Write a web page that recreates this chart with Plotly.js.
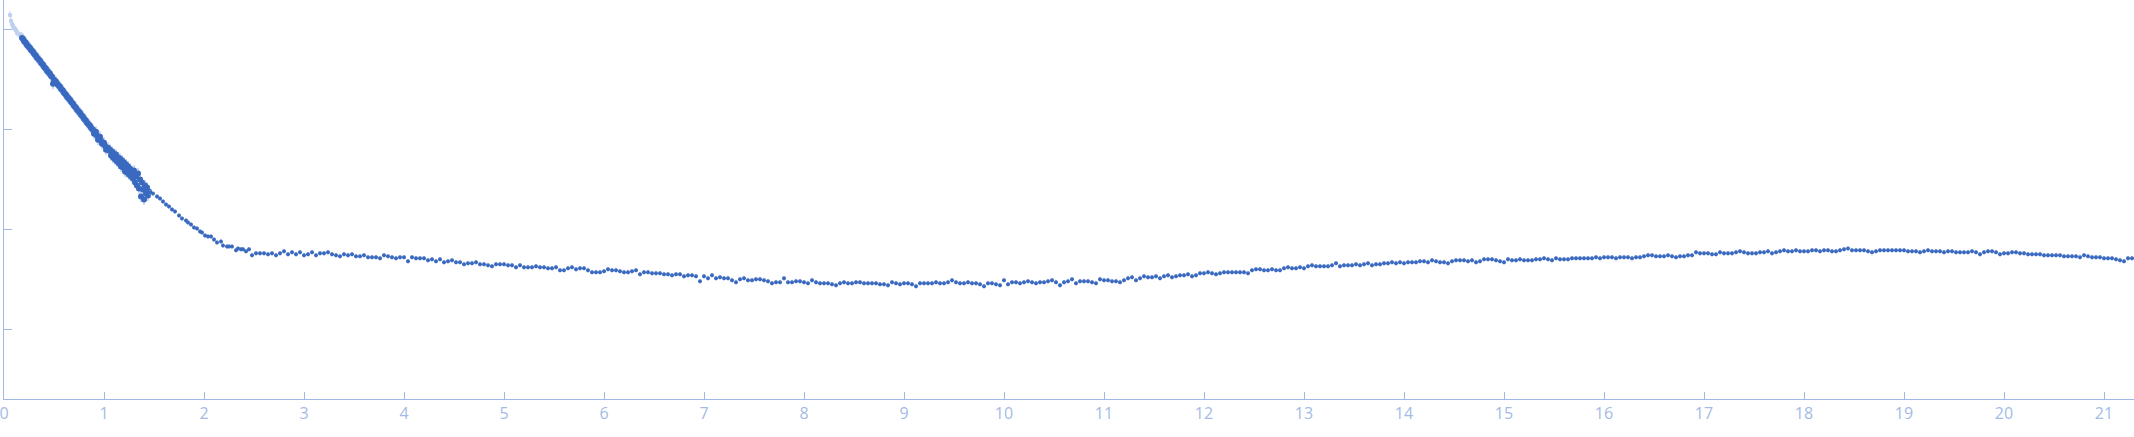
<html>
<head>
<script src="https://cdn.plot.ly/plotly-3.0.1.min.js"></script>
<style>
  body { margin: 0; background: #fff; }
</style>
</head>
<body>
<div id="chart"></div>
<script>
    // points left out of the fit (lowest s)
    let excludedS = [0.06,0.07,0.08,0.09,0.10,0.12,0.13,0.15,0.17];
    let excludedI = [4.15,4.09,4.06,4.04,4.02,4.00,3.97,3.96,3.94];

    // dense low-angle part
    let lowS = [
      0.18,0.19,0.20,0.21,0.22,0.23,0.24,0.25,0.26,0.27,
      0.28,0.29,0.30,0.31,0.32,0.33,0.34,0.35,0.36,0.37,
      0.38,0.39,0.40,0.41,0.42,0.43,0.44,0.45,0.46,0.47,
      0.48,0.49,0.50,0.51,0.52,0.53,0.54,0.55,0.56,0.57,
      0.58,0.59,0.60,0.61,0.62,0.63,0.64,0.65,0.66,0.67,
      0.68,0.69,0.70,0.71,0.72,0.73,0.74,0.75,0.76,0.77,
      0.78,0.79,0.80,0.81,0.82,0.83,0.84,0.85,0.86,0.87,
      0.88,0.89,0.90,0.91,0.92,0.93,0.94,0.95,0.96,0.97,
      0.98,0.99,1.00,1.01,1.02,1.03,1.04,1.05,1.06,1.07,
      1.08,1.09,1.10,1.11,1.12,1.13,1.14,1.15,1.16,1.17,
      1.18,1.19,1.20,1.21,1.22,1.23,1.24,1.25,1.26,1.27,
      1.28,1.29,1.30,1.31,1.32,1.33,1.34,1.35,1.36,1.37,
      1.38,1.39,1.40,1.41,1.42,1.43,1.44,1.45];
    let lowI = [
      3.92,3.91,3.89,3.88,3.87,3.85,3.84,3.83,3.82,3.80,
      3.79,3.78,3.76,3.75,3.74,3.72,3.71,3.70,3.69,3.67,
      3.66,3.65,3.63,3.62,3.61,3.59,3.58,3.57,3.56,3.54,
      3.53,3.46,3.50,3.49,3.48,3.46,3.45,3.44,3.43,3.41,
      3.40,3.39,3.37,3.36,3.35,3.33,3.32,3.31,3.30,3.28,
      3.27,3.26,3.24,3.23,3.22,3.20,3.19,3.18,3.17,3.15,
      3.14,3.13,3.11,3.10,3.09,3.07,3.06,3.05,3.04,3.02,
      3.01,3.00,2.96,2.97,2.98,2.94,2.90,2.92,2.93,2.89,
      2.86,2.87,2.87,2.84,2.80,2.81,2.82,2.79,2.80,2.74,
      2.78,2.72,2.76,2.70,2.75,2.68,2.72,2.66,2.71,2.63,
      2.69,2.62,2.67,2.58,2.65,2.57,2.63,2.55,2.61,2.53,
      2.57,2.51,2.59,2.47,2.53,2.44,2.56,2.41,2.50,2.33,
      2.47,2.40,2.30,2.44,2.36,2.42,2.34,2.38];

    // rest of the curve
    let highS = [
      1.46,1.49,1.53,1.56,1.59,1.62,1.65,1.68,1.71,1.75,1.78,1.82,1.84,1.87,1.90,1.93,1.96,1.98,
      2.01,2.04,2.07,2.10,2.13,2.17,2.19,2.23,2.25,2.28,2.32,2.34,2.37,2.39,2.42,2.45,2.48,
      2.52,2.56,2.60,2.64,2.68,2.72,2.76,2.80,2.84,2.88,2.92,2.96,
      3,3.04,3.08,3.12,3.16,3.2,3.24,3.28,3.32,3.36,3.4,3.44,3.48,3.52,3.56,3.6,3.64,3.68,3.72,3.76,3.8,3.84,3.88,3.92,3.96,
      4,4.04,4.08,4.12,4.16,4.2,4.24,4.28,4.32,4.36,4.4,4.44,4.48,4.52,4.56,4.6,4.64,4.68,4.72,4.76,4.8,4.84,4.88,4.92,4.96,
      5,5.04,5.08,5.12,5.16,5.2,5.24,5.28,5.32,5.36,5.4,5.44,5.48,5.52,5.56,5.6,5.64,5.68,5.72,5.76,5.8,5.84,5.88,5.92,5.96,
      6,6.04,6.08,6.12,6.16,6.2,6.24,6.28,6.32,6.36,6.4,6.44,6.48,6.52,6.56,6.6,6.64,6.68,6.72,6.76,6.8,6.84,6.88,6.92,6.96,
      7,7.04,7.08,7.12,7.16,7.2,7.24,7.28,7.32,7.36,7.4,7.44,7.48,7.52,7.56,7.6,7.64,7.68,7.72,7.76,7.8,7.84,7.88,7.92,7.96,
      8,8.04,8.08,8.12,8.16,8.2,8.24,8.28,8.32,8.36,8.4,8.44,8.48,8.52,8.56,8.6,8.64,8.68,8.72,8.76,8.8,8.84,8.88,8.92,8.96,
      9,9.04,9.08,9.12,9.16,9.2,9.24,9.28,9.32,9.36,9.4,9.44,9.48,9.52,9.56,9.6,9.64,9.68,9.72,9.76,9.8,9.84,9.88,9.92,9.96,
      10,10.04,10.08,10.12,10.16,10.2,10.24,10.28,10.32,10.36,10.4,10.44,10.48,10.52,10.56,10.6,10.64,10.68,10.72,10.76,10.8,10.84,10.88,10.92,10.96,
      11,11.04,11.08,11.12,11.16,11.2,11.24,11.28,11.32,11.36,11.4,11.44,11.48,11.52,11.56,11.6,11.64,11.68,11.72,11.76,11.8,11.84,11.88,11.92,11.96,
      12,12.04,12.08,12.12,12.16,12.2,12.24,12.28,12.32,12.36,12.4,12.44,12.48,12.52,12.56,12.6,12.64,12.68,12.72,12.76,12.8,12.84,12.88,12.92,12.96,
      13,13.04,13.08,13.12,13.16,13.2,13.24,13.28,13.32,13.36,13.4,13.44,13.48,13.52,13.56,13.6,13.64,13.68,13.72,13.76,13.8,13.84,13.88,13.92,13.96,
      14,14.04,14.08,14.12,14.16,14.2,14.24,14.28,14.32,14.36,14.4,14.44,14.48,14.52,14.56,14.6,14.64,14.68,14.72,14.76,14.8,14.84,14.88,14.92,14.96,
      15,15.04,15.08,15.12,15.16,15.2,15.24,15.28,15.32,15.36,15.4,15.44,15.48,15.52,15.56,15.6,15.64,15.68,15.72,15.76,15.8,15.84,15.88,15.92,15.96,
      16,16.04,16.08,16.12,16.16,16.2,16.24,16.28,16.32,16.36,16.4,16.44,16.48,16.52,16.56,16.6,16.64,16.68,16.72,16.76,16.8,16.84,16.88,16.92,16.96,
      17,17.04,17.08,17.12,17.16,17.2,17.24,17.28,17.32,17.36,17.4,17.44,17.48,17.52,17.56,17.6,17.64,17.68,17.72,17.76,17.8,17.84,17.88,17.92,17.96,
      18,18.04,18.08,18.12,18.16,18.2,18.24,18.28,18.32,18.36,18.4,18.44,18.48,18.52,18.56,18.6,18.64,18.68,18.72,18.76,18.8,18.84,18.88,18.92,18.96,
      19,19.04,19.08,19.12,19.16,19.2,19.24,19.28,19.32,19.36,19.4,19.44,19.48,19.52,19.56,19.6,19.64,19.68,19.72,19.76,19.8,19.84,19.88,19.92,19.96,
      20,20.04,20.08,20.12,20.16,20.2,20.24,20.28,20.32,20.36,20.4,20.44,20.48,20.52,20.56,20.6,20.64,20.68,20.72,20.76,20.8,20.84,20.88,20.92,20.96,
      21,21.04,21.08,21.12,21.16,21.2,21.24,21.28];
    let highI = [
      2.37,2.36,2.33,2.31,2.28,2.25,2.23,2.20,2.18,2.14,2.11,2.09,2.07,2.05,2.02,2.01,1.98,1.97,
      1.94,1.93,1.93,1.90,1.87,1.88,1.84,1.83,1.83,1.83,1.79,1.81,1.80,1.80,1.78,1.80,1.74,
      1.76,1.76,1.76,1.75,1.76,1.74,1.76,1.78,1.75,1.77,1.75,1.77,
      1.74,1.75,1.77,1.74,1.76,1.76,1.77,1.75,1.74,1.73,1.75,1.74,1.75,1.73,1.73,1.74,1.72,1.72,1.72,1.71,1.74,1.73,1.72,1.71,1.72,
      1.72,1.68,1.72,1.71,1.71,1.71,1.69,1.70,1.68,1.70,1.67,1.68,1.69,1.67,1.67,1.65,1.66,1.66,1.67,1.65,1.65,1.64,1.63,1.65,1.65,
      1.65,1.64,1.64,1.62,1.64,1.62,1.62,1.62,1.63,1.62,1.62,1.61,1.61,1.62,1.59,1.59,1.61,1.62,1.60,1.61,1.61,1.59,1.57,1.57,1.57,
      1.58,1.60,1.59,1.59,1.58,1.57,1.57,1.58,1.59,1.55,1.57,1.57,1.56,1.56,1.56,1.55,1.55,1.54,1.55,1.55,1.53,1.54,1.54,1.53,1.48,
      1.53,1.51,1.54,1.51,1.52,1.51,1.51,1.49,1.47,1.50,1.51,1.49,1.49,1.50,1.50,1.49,1.48,1.46,1.47,1.47,1.51,1.47,1.47,1.48,1.48,
      1.47,1.46,1.49,1.47,1.46,1.46,1.46,1.45,1.44,1.46,1.47,1.46,1.46,1.47,1.47,1.46,1.46,1.46,1.46,1.45,1.45,1.44,1.47,1.46,1.45,
      1.46,1.46,1.45,1.43,1.46,1.46,1.46,1.46,1.47,1.46,1.46,1.47,1.49,1.47,1.46,1.46,1.47,1.46,1.46,1.45,1.43,1.46,1.46,1.45,1.44,
      1.49,1.45,1.47,1.47,1.46,1.47,1.48,1.47,1.46,1.47,1.47,1.48,1.49,1.47,1.44,1.47,1.48,1.50,1.46,1.48,1.48,1.48,1.47,1.46,1.50,
      1.49,1.49,1.48,1.48,1.47,1.49,1.51,1.52,1.49,1.51,1.53,1.52,1.52,1.53,1.51,1.53,1.54,1.52,1.53,1.54,1.54,1.55,1.53,1.54,1.56,
      1.56,1.57,1.56,1.55,1.56,1.57,1.57,1.57,1.57,1.57,1.57,1.56,1.59,1.60,1.60,1.59,1.59,1.60,1.59,1.59,1.61,1.62,1.61,1.61,1.62,
      1.61,1.63,1.64,1.63,1.63,1.63,1.63,1.64,1.66,1.63,1.64,1.64,1.64,1.65,1.64,1.65,1.66,1.64,1.65,1.65,1.66,1.66,1.67,1.66,1.67,
      1.66,1.67,1.67,1.67,1.68,1.68,1.67,1.69,1.68,1.67,1.67,1.66,1.68,1.69,1.69,1.69,1.68,1.69,1.67,1.68,1.70,1.70,1.70,1.69,1.68,
      1.67,1.70,1.69,1.69,1.70,1.69,1.69,1.69,1.70,1.70,1.71,1.70,1.69,1.71,1.70,1.70,1.70,1.71,1.71,1.71,1.71,1.71,1.71,1.72,1.71,
      1.72,1.72,1.72,1.71,1.72,1.72,1.72,1.71,1.72,1.72,1.73,1.74,1.74,1.73,1.73,1.73,1.74,1.73,1.72,1.73,1.73,1.74,1.74,1.77,1.76,
      1.76,1.76,1.75,1.75,1.77,1.76,1.76,1.76,1.77,1.78,1.77,1.76,1.76,1.76,1.77,1.77,1.78,1.76,1.77,1.78,1.79,1.78,1.78,1.79,1.78,
      1.78,1.78,1.79,1.79,1.78,1.79,1.79,1.78,1.78,1.79,1.80,1.81,1.79,1.79,1.79,1.79,1.78,1.77,1.78,1.79,1.79,1.79,1.79,1.79,1.79,
      1.79,1.78,1.78,1.78,1.77,1.78,1.79,1.78,1.78,1.78,1.77,1.78,1.78,1.77,1.77,1.77,1.77,1.78,1.77,1.75,1.77,1.78,1.78,1.77,1.75,
      1.76,1.76,1.77,1.77,1.76,1.76,1.75,1.75,1.75,1.75,1.74,1.74,1.74,1.74,1.74,1.73,1.73,1.73,1.73,1.72,1.74,1.73,1.72,1.72,1.72,
      1.71,1.71,1.71,1.70,1.69,1.68,1.71,1.71];

    let xTicks = [0,1,2,3,4,5,6,7,8,9,10,11,12,13,14,15,16,17,18,19,20,21];
    let yTicks = [1,2,3,4];

    let dark = "#3a69c0";
    let pale = "#bcceee";
    let axisCol = "#a2b8e4";

    let data = [{
        x: excludedS, y: excludedI,
        type: "scatter", mode: "markers",
        marker: { color: "#bfd0ef", size: 4.5 },
        error_y: { type: "constant", value: 0.04, color: "#d3def3", thickness: 1, width: 0 }
      },{
        x: lowS, y: lowI,
        type: "scatter", mode: "markers",
        marker: { color: dark, size: 6 },
        error_y: { type: "constant", value: 0.055, color: pale, thickness: 1.5, width: 0 }
      },{
        x: highS, y: highI,
        type: "scatter", mode: "markers",
        marker: { color: dark, size: 4 },
        error_y: { type: "constant", value: 0.025, color: pale, thickness: 1, width: 0 }
    }];

    let layout = {
      width: 2134, height: 437,
      margin: { l: 4, r: 0, t: 0, b: 38, pad: 0 },
      showlegend: false,
      paper_bgcolor: "#fff", plot_bgcolor: "#fff",
      font: { family: "Open Sans", size: 16, color: "#a3bbe6" },
      xaxis: {
        range: [0, 21.3], tickvals: xTicks, ticktext: xTicks.map(String),
        ticklabeloverflow: "allow",
        ticks: "inside", ticklen: 7, tickcolor: axisCol,
        showline: true, linecolor: axisCol, linewidth: 1,
        showgrid: false, zeroline: false
      },
      yaxis: {
        range: [0.3, 4.3], tickvals: yTicks, showticklabels: false,
        ticks: "inside", ticklen: 8, tickcolor: axisCol,
        showline: true, linecolor: axisCol, linewidth: 1,
        showgrid: false, zeroline: false
      }
    };

    let config = { staticPlot: true, displayModeBar: false };

    Plotly.newPlot("chart", data, layout, config);
</script>
</body>
</html>
